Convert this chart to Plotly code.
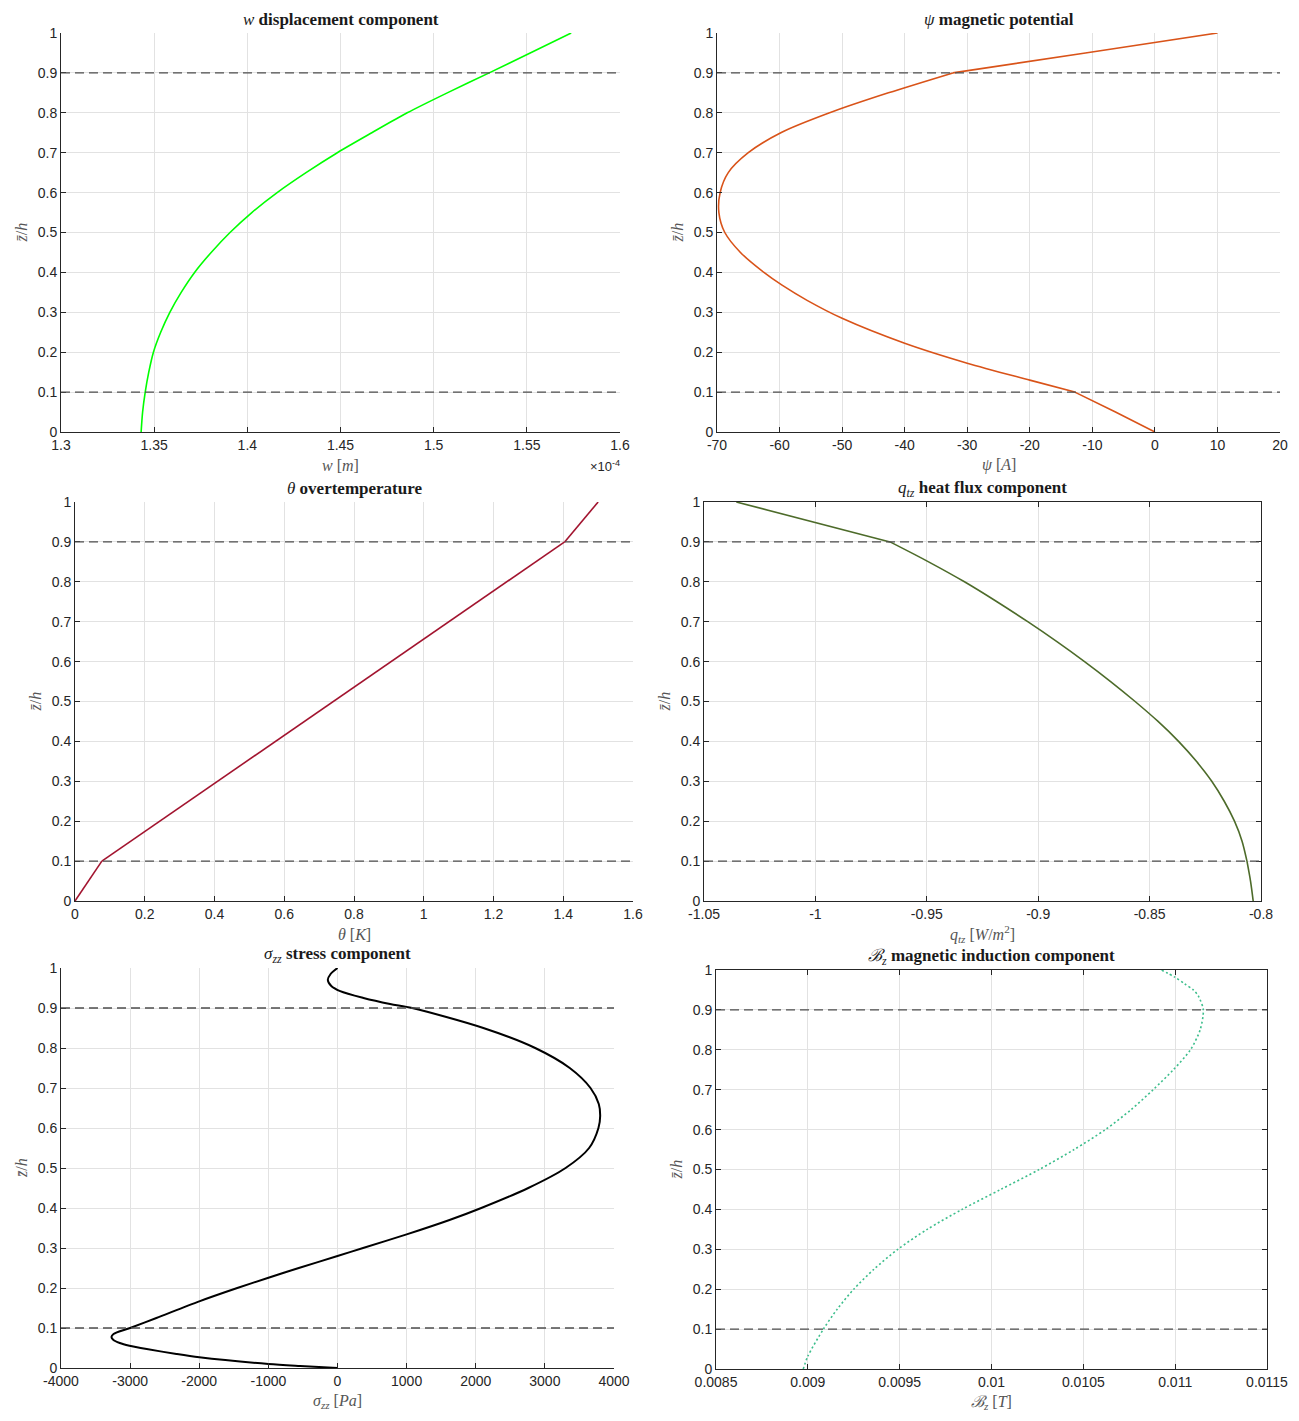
import numpy as np
import plotly.graph_objects as go

# page is 1299x1421; the html body adds an 8px margin around the plot div
PAGE_W, PAGE_H, PAD = 1299, 1421, 8
W, H = PAGE_W - 2 * PAD, PAGE_H - 2 * PAD

# ---- data ----
z_w = [0, 0.05, 0.1, 0.15, 0.2, 0.25, 0.3, 0.35, 0.4, 0.45, 0.5,
       0.55, 0.6, 0.65, 0.7, 0.75, 0.8, 0.85, 0.9, 0.95, 1.0]
w_disp = [1.3430, 1.3438, 1.3452, 1.3471, 1.3496, 1.3535, 1.3584, 1.3645,
          1.3717, 1.3806, 1.3907, 1.4024, 1.4160, 1.4315, 1.4483, 1.4668,
          1.4858, 1.5073, 1.5298, 1.5518, 1.5738]  # x 1e-4 m

z_psi = [0, 0.05, 0.1, 0.13, 0.1725, 0.2225, 0.285, 0.33, 0.368, 0.4,
         0.45, 0.5, 0.55, 0.6, 0.65, 0.7, 0.75, 0.8, 0.85, 0.9, 0.95, 1.0]
psi = [0, -6.3, -12.8, -20.0, -30.0, -40.0, -50.0, -55.6, -59.6, -62.5,
       -66.25, -68.75, -69.7, -69.5, -68.2, -65.0, -59.8, -52.0, -42.6,
       -32.3, -11.1, 10.0]

z_theta = [0, 0.1, 0.9, 1.0]
theta = [0, 0.077, 1.404, 1.5]

z_q = [0, 0.05, 0.1, 0.15, 0.2, 0.25, 0.3, 0.35, 0.4, 0.45, 0.5, 0.55,
       0.6, 0.65, 0.7, 0.75, 0.8, 0.85, 0.9, 1.0]
q_z = [-0.8035, -0.8047, -0.8063, -0.8085, -0.8119, -0.8165, -0.8221,
       -0.8290, -0.8370, -0.8462, -0.8565, -0.8675, -0.8792, -0.8916,
       -0.9047, -0.9185, -0.9331, -0.9492, -0.9665, -1.0355]

z_sig = [0, 0.005, 0.01, 0.0267, 0.035, 0.0475, 0.0558, 0.0625, 0.0708,
         0.0775, 0.085, 0.1, 0.125, 0.1667, 0.2, 0.225, 0.25, 0.28, 0.3,
         0.334, 0.37, 0.4, 0.45, 0.5, 0.55, 0.6, 0.63, 0.66, 0.7, 0.75,
         0.8, 0.85, 0.9, 0.91, 0.925, 0.942, 0.955, 0.97, 0.985, 1.0]
sigma_zz = [0, -540, -1000, -2000, -2330, -2760, -3010, -3150, -3245,
            -3270, -3240, -3000, -2620, -2000, -1450, -1010, -560, 0, 370,
            1000, 1620, 2080, 2760, 3300, 3640, 3775, 3800, 3780, 3660,
            3360, 2860, 2110, 1080, 761, 376, 39, -90, -140, -100, 0]

z_b = [0, 0.032, 0.1, 0.15, 0.2, 0.25, 0.3, 0.35, 0.4, 0.45, 0.5, 0.55,
       0.6, 0.65, 0.7, 0.75, 0.8, 0.85, 0.9, 0.935, 0.95, 0.965, 0.982, 1.0]
b_z = [0.008975, 0.009, 0.009085, 0.00916, 0.00925, 0.00936, 0.00949,
       0.00965, 0.00984, 0.01005, 0.01026, 0.01045, 0.01062, 0.01076,
       0.01088, 0.01099, 0.011083, 0.011136, 0.011153, 0.011126, 0.011099,
       0.011053, 0.010998, 0.010925]

interfaces = [0.1, 0.9]

# ---- per-panel settings ----
# axes box in page pixels: left, right, top, bottom
boxes = [(61, 620, 33, 432), (717, 1280, 33, 432),
         (75, 633, 502, 901), (704, 1261, 502, 901),
         (61, 614, 968, 1368), (716, 1267, 970, 1369)]

panels = [
    dict(z=z_w, x=w_disp, color="#00FF00", width=1.6, dash="solid", layered=False,
         rng=(1.3, 1.6), dtick=0.05, box=False,
         title="<i>w</i> <b>displacement component</b>",
         xlabel="<i>w</i> [<i>m</i>]"),
    dict(z=z_psi, x=psi, color="#D95319", width=1.6, dash="solid", layered=True,
         rng=(-70, 20), dtick=10, box=False,
         title="<i>ψ</i> <b>magnetic potential</b>",
         xlabel="<i>ψ</i> [<i>A</i>]"),
    dict(z=z_theta, x=theta, color="#A2142F", width=1.6, dash="solid", layered=True,
         rng=(0, 1.6), dtick=0.2, box=False,
         title="<i>θ</i> <b>overtemperature</b>",
         xlabel="<i>θ</i> [<i>K</i>]"),
    dict(z=z_q, x=q_z, color="#4D6B2A", width=1.6, dash="solid", layered=True,
         rng=(-1.05, -0.8), dtick=0.05, box=True,
         title="<i>q</i><sub><i>tz</i></sub> <b>heat flux component</b>",
         xlabel="<i>q</i><sub><i>tz</i></sub> [<i>W</i>/<i>m</i><sup>2</sup>]"),
    dict(z=z_sig, x=sigma_zz, color="#000000", width=2.0, dash="solid", layered=False,
         rng=(-4000, 4000), dtick=1000, box=False,
         title="<i>σ</i><sub><i>zz</i></sub> <b>stress component</b>",
         xlabel="<i>σ</i><sub><i>zz</i></sub> [<i>Pa</i>]"),
    dict(z=z_b, x=b_z, color="#3DBE8C", width=1.6, dash="2px,2.5px", layered=False,
         rng=(0.0085, 0.0115), dtick=0.0005, box=True,
         title="<i>ℬ</i><sub><i>z</i></sub> <b>magnetic induction component</b>",
         xlabel="<i>ℬ</i><sub><i>z</i></sub> [<i>T</i>]"),
]

AX = "#262626"
GRID = "#E2E2E2"
TICKFONT = dict(family="Liberation Sans, Arial, sans-serif", size=14, color=AX)
SERIF = "Liberation Serif, Times New Roman, serif"


def px(x):
    return (x - PAD) / W


def py(y):
    return 1 - (y - PAD) / H


def ticks(lo, hi, step):
    vals = np.arange(lo, hi + step / 2, step)
    vals = [round(v, 6) for v in vals]
    return vals, ["%g" % v for v in vals]


def layer_slices(z):
    # split a profile at the layer interfaces so kinks stay sharp
    cuts = [0] + [z.index(zi) for zi in interfaces if zi in z] + [len(z) - 1]
    return [slice(a, b + 1) for a, b in zip(cuts[:-1], cuts[1:])]


fig = go.Figure()
layout = dict(width=W, height=H, margin=dict(l=0, r=0, t=0, b=0, autoexpand=False),
              paper_bgcolor="white", plot_bgcolor="white", showlegend=False)
shapes = []
annotations = []

yvals, ytext = ticks(0, 1, 0.1)

for i, (p, b) in enumerate(zip(panels, boxes)):
    n = "" if i == 0 else str(i + 1)
    left, right, top, bottom = b

    parts = layer_slices(p["z"]) if p["layered"] else [slice(None)]
    for s in parts:
        fig.add_trace(go.Scatter(
            x=p["x"][s], y=p["z"][s], mode="lines",
            line=dict(color=p["color"], width=p["width"], dash=p["dash"],
                      shape="spline", smoothing=0.8),
            xaxis="x" + n, yaxis="y" + n, hoverinfo="x+y"))

    xv, xt = ticks(p["rng"][0], p["rng"][1], p["dtick"])
    mirror = "ticks" if p["box"] else False
    common = dict(ticks="inside", ticklen=5, tickcolor=AX, automargin=False,
                  showline=True, linecolor=AX, linewidth=1, mirror=mirror,
                  showgrid=True, gridcolor=GRID, gridwidth=1, zeroline=False,
                  tickfont=TICKFONT)
    layout["xaxis" + n] = dict(domain=[px(left), px(right)], anchor="y" + n,
                               range=list(p["rng"]), tickvals=xv, ticktext=xt, **common)
    layout["yaxis" + n] = dict(domain=[py(bottom), py(top)], anchor="x" + n,
                               range=[0, 1], tickvals=yvals, ticktext=ytext, **common)

    for zi in interfaces:
        shapes.append(dict(type="line", xref="x" + n + " domain", yref="y" + n,
                           x0=0, x1=1, y0=zi, y1=zi,
                           line=dict(color="#4D4D4D", width=1.3, dash="9px,5px")))

    annotations.append(dict(
        text=p["title"], xref="paper", yref="paper",
        x=px((left + right) / 2), y=py(top - 13),
        xanchor="center", yanchor="middle", showarrow=False,
        font=dict(family=SERIF, size=17, color="#1a1a1a")))
    annotations.append(dict(
        text=p["xlabel"], xref="paper", yref="paper",
        x=px((left + right) / 2), y=py(bottom + 33),
        xanchor="center", yanchor="middle", showarrow=False,
        font=dict(family=SERIF, size=16, color="#555555")))
    annotations.append(dict(
        text="<i>z̄</i>/<i>h</i>", xref="paper", yref="paper",
        x=px(left - 40), y=py((top + bottom) / 2),
        xanchor="center", yanchor="middle", showarrow=False, textangle=-90,
        font=dict(family=SERIF, size=16, color="#555555")))

# exponent label for the w axis
annotations.append(dict(
    text="×10<sup>-4</sup>", xref="paper", yref="paper",
    x=px(622), y=py(466), xanchor="right", yanchor="middle",
    showarrow=False, font=dict(TICKFONT, size=13)))

layout["shapes"] = shapes
layout["annotations"] = annotations
fig.update_layout(**layout)

fig.write_html("out.html")
